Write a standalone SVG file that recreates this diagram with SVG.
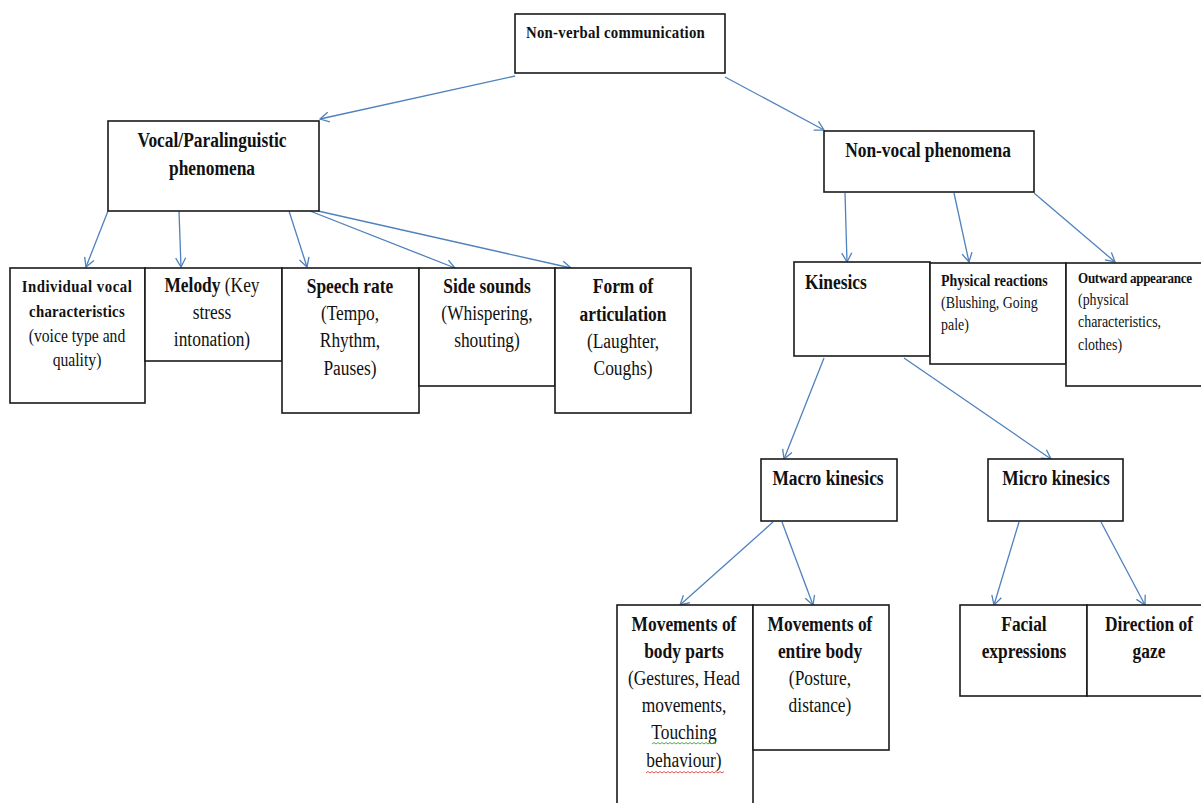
<svg xmlns="http://www.w3.org/2000/svg" width="1201" height="803" viewBox="0 0 1201 803">
<defs>
<style>
.box{fill:#fff;stroke:#1a1a1a;stroke-width:1.6}
.con{stroke:#4f81bd;stroke-width:1.3;fill:none;marker-end:url(#ah)}
text{font-family:"Liberation Serif","Times New Roman",serif;fill:#111}
.c{text-anchor:middle}
.b{font-weight:bold}
.n{font-weight:normal}
.f20{font-size:20px}
.f17{font-size:17px}
.f18{font-size:18px}
.f16{font-size:16px}
.f15{font-size:15px}
</style>
<marker id="ah" markerUnits="userSpaceOnUse" markerWidth="14" markerHeight="14" refX="10" refY="6" orient="auto">
<path d="M1,1 L10,6 L1,11" fill="none" stroke="#4f81bd" stroke-width="1.3"/>
</marker>
</defs>
<rect width="1201" height="803" fill="#fff"/>

<g id="connectors">
<path class="con" d="M515,76 L320,119"/>
<path class="con" d="M725,77 L824,130"/>
<path class="con" d="M108,211 L86,267"/>
<path class="con" d="M179,211 L181,267"/>
<path class="con" d="M289,211 L307,267"/>
<path class="con" d="M310,211 L455,268"/>
<path class="con" d="M318,211 L571,268"/>
<path class="con" d="M845,193 L847,262"/>
<path class="con" d="M954,193 L969,262"/>
<path class="con" d="M1034,193 L1115,262"/>
<path class="con" d="M824,358 L784,459"/>
<path class="con" d="M904,358 L1051,459"/>
<path class="con" d="M773,522 L680,605"/>
<path class="con" d="M782,522 L813,605"/>
<path class="con" d="M1019,522 L994,605"/>
<path class="con" d="M1101,522 L1145,605"/>
</g>

<g id="n-top">
<rect class="box" x="515" y="14" width="210" height="59"/>
<text class="b f17" transform="translate(526 0) scale(0.87 1)"><tspan x="0" y="38" letter-spacing="0.3">Non-verbal communication</tspan></text>
</g>

<g id="n-vocal">
<rect class="box" x="108" y="121" width="211" height="90"/>
<text class="b f20 c" transform="translate(212 0) scale(0.87 1)"><tspan x="0" y="147">Vocal/Paralinguistic</tspan><tspan x="0" y="175">phenomena</tspan></text>
</g>

<g id="n-individual">
<rect class="box" x="10" y="268" width="135" height="135"/>
<text class="c" transform="translate(77 0) scale(0.87 1)"><tspan class="b f17" x="0" y="292" letter-spacing="0.6">Individual vocal</tspan><tspan class="b f17" x="0" y="317" letter-spacing="0.3">characteristics</tspan><tspan class="n f18" x="0" y="342">(voice type and</tspan><tspan class="n f18" x="0" y="366">quality)</tspan></text>
</g>

<g id="n-melody">
<rect class="box" x="145" y="268" width="137" height="93"/>
<text class="c f20" transform="translate(212 0) scale(0.87 1)"><tspan x="0" y="292"><tspan class="b">Melody</tspan><tspan class="n"> (Key</tspan></tspan><tspan class="n" x="0" y="319">stress</tspan><tspan class="n" x="0" y="346">intonation)</tspan></text>
</g>

<g id="n-speech">
<rect class="box" x="282" y="268" width="137" height="145"/>
<text class="c f20" transform="translate(350 0) scale(0.87 1)"><tspan class="b" x="0" y="293">Speech rate</tspan><tspan class="n" x="0" y="320">(Tempo,</tspan><tspan class="n" x="0" y="347">Rhythm,</tspan><tspan class="n" x="0" y="375">Pauses)</tspan></text>
</g>

<g id="n-side">
<rect class="box" x="419" y="268" width="136" height="118"/>
<text class="c f20" transform="translate(487 0) scale(0.87 1)"><tspan class="b" x="0" y="293">Side sounds</tspan><tspan class="n" x="0" y="320">(Whispering,</tspan><tspan class="n" x="0" y="347">shouting)</tspan></text>
</g>

<g id="n-form">
<rect class="box" x="555" y="268" width="136" height="145"/>
<text class="c f20" transform="translate(623 0) scale(0.87 1)"><tspan class="b" x="0" y="293">Form of</tspan><tspan class="b" x="0" y="321">articulation</tspan><tspan class="n" x="0" y="348">(Laughter,</tspan><tspan class="n" x="0" y="375">Coughs)</tspan></text>
</g>

<g id="n-nonvocal">
<rect class="box" x="824" y="131" width="210" height="61"/>
<text class="b f20 c" transform="translate(928 0) scale(0.87 1)"><tspan x="0" y="157">Non-vocal phenomena</tspan></text>
</g>

<g id="n-kinesics">
<rect class="box" x="794" y="262" width="136" height="94"/>
<text class="b f20" transform="translate(805 0) scale(0.87 1)"><tspan x="0" y="289">Kinesics</tspan></text>
</g>

<g id="n-physical">
<rect class="box" x="930" y="263" width="136" height="101"/>
<text class="f16" transform="translate(941 0) scale(0.87 1)"><tspan class="b" x="0" y="286">Physical reactions</tspan><tspan class="n" x="0" y="308">(Blushing, Going</tspan><tspan class="n" x="0" y="330">pale)</tspan></text>
</g>

<g id="n-outward">
<rect class="box" x="1066" y="263" width="136" height="123"/>
<text transform="translate(1078 0) scale(0.87 1)"><tspan class="b f15" x="0" y="283" letter-spacing="-0.3">Outward appearance</tspan><tspan class="n f16" x="0" y="305">(physical</tspan><tspan class="n f16" x="0" y="327">characteristics,</tspan><tspan class="n f16" x="0" y="350">clothes)</tspan></text>
</g>

<g id="n-macro">
<rect class="box" x="761" y="459" width="136" height="62"/>
<text class="b f20 c" transform="translate(828 0) scale(0.87 1)"><tspan x="0" y="485">Macro kinesics</tspan></text>
</g>

<g id="n-micro">
<rect class="box" x="988" y="459" width="135" height="62"/>
<text class="b f20 c" transform="translate(1056 0) scale(0.87 1)"><tspan x="0" y="485">Micro kinesics</tspan></text>
</g>

<g id="n-bodyparts">
<rect class="box" x="617" y="605" width="136" height="215"/>
<text class="c f20" transform="translate(684 0) scale(0.87 1)"><tspan class="b" x="0" y="631">Movements of</tspan><tspan class="b" x="0" y="658">body parts</tspan><tspan class="n" x="0" y="685">(Gestures, Head</tspan><tspan class="n" x="0" y="712">movements,</tspan><tspan class="n" x="0" y="739">Touching</tspan><tspan class="n" x="0" y="767">behaviour)</tspan></text>
<path d="M652,744 l2,-1.5 l2,1.5 l2,-1.5 l2,1.5 l2,-1.5 l2,1.5 l2,-1.5 l2,1.5 l2,-1.5 l2,1.5 l2,-1.5 l2,1.5 l2,-1.5 l2,1.5 l2,-1.5 l2,1.5 l2,-1.5 l2,1.5 l2,-1.5 l2,1.5 l2,-1.5 l2,1.5 l2,-1.5 l2,1.5 l2,-1.5 l2,1.5 l2,-1.5 l2,1.5 l2,-1.5 l2,1.5 l2,-1.5 l2,1.5" fill="none" stroke="#3aa335" stroke-width="0.9"/>
<path d="M646,773 l2,-1.5 l2,1.5 l2,-1.5 l2,1.5 l2,-1.5 l2,1.5 l2,-1.5 l2,1.5 l2,-1.5 l2,1.5 l2,-1.5 l2,1.5 l2,-1.5 l2,1.5 l2,-1.5 l2,1.5 l2,-1.5 l2,1.5 l2,-1.5 l2,1.5 l2,-1.5 l2,1.5 l2,-1.5 l2,1.5 l2,-1.5 l2,1.5 l2,-1.5 l2,1.5 l2,-1.5 l2,1.5 l2,-1.5 l2,1.5 l2,-1.5 l2,1.5 l2,-1.5 l2,1.5 l2,-1.5 l2,1.5 l2,-1.5" fill="none" stroke="#e0403a" stroke-width="0.9"/>
</g>

<g id="n-entirebody">
<rect class="box" x="753" y="605" width="136" height="145"/>
<text class="c f20" transform="translate(820 0) scale(0.87 1)"><tspan class="b" x="0" y="631">Movements of</tspan><tspan class="b" x="0" y="658">entire body</tspan><tspan class="n" x="0" y="685">(Posture,</tspan><tspan class="n" x="0" y="712">distance)</tspan></text>
</g>

<g id="n-facial">
<rect class="box" x="960" y="605" width="127" height="91"/>
<text class="b f20 c" transform="translate(1024 0) scale(0.87 1)"><tspan x="0" y="631">Facial</tspan><tspan x="0" y="658">expressions</tspan></text>
</g>

<g id="n-gaze">
<rect class="box" x="1087" y="605" width="120" height="91"/>
<text class="b f20 c" transform="translate(1149 0) scale(0.87 1)"><tspan x="0" y="631">Direction of</tspan><tspan x="0" y="658">gaze</tspan></text>
</g>
</svg>
